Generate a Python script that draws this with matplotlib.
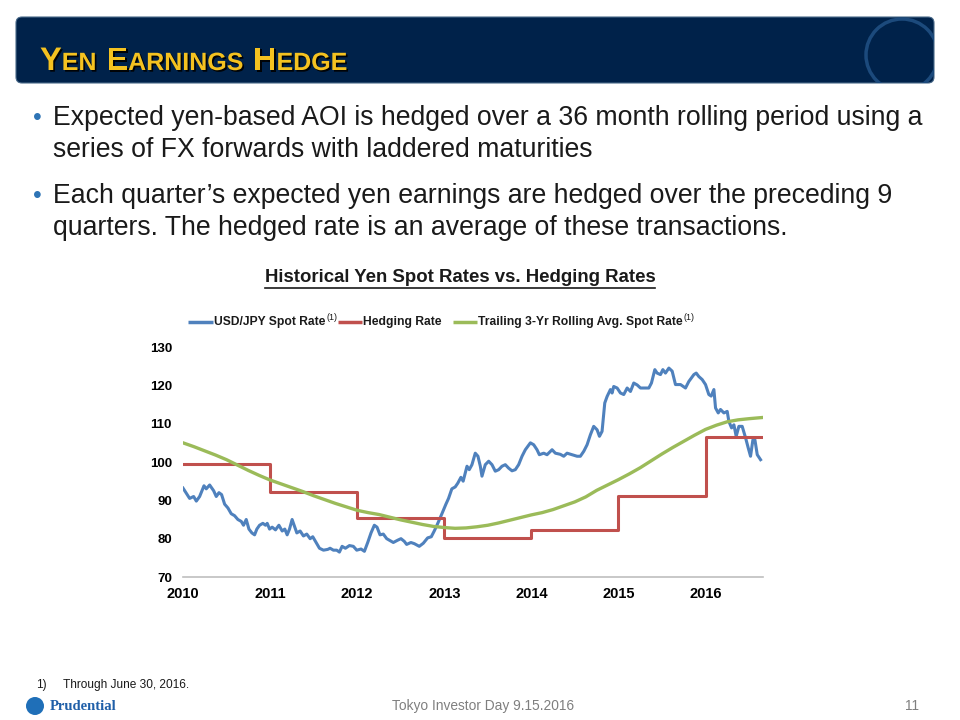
import matplotlib
matplotlib.use("Agg")
import matplotlib.pyplot as plt
import matplotlib.patheffects as pe
from matplotlib.patches import FancyBboxPatch, Circle

plt.rcParams['font.family'] = ['Liberation Sans', 'DejaVu Sans']

# --- data (decimal years) ---
spot_years = [2010.000, 2010.076, 2010.122, 2010.153, 2010.191, 2010.241, 2010.267, 2010.306,
              2010.352, 2010.382, 2010.413, 2010.443, 2010.478, 2010.516, 2010.554, 2010.592,
              2010.630, 2010.669, 2010.695, 2010.726, 2010.757, 2010.791, 2010.822, 2010.848,
              2010.879, 2010.917, 2010.948, 2010.967, 2010.994, 2011.024, 2011.062, 2011.101,
              2011.139, 2011.169, 2011.196, 2011.223, 2011.253, 2011.276, 2011.307, 2011.345,
              2011.383, 2011.421, 2011.460, 2011.490, 2011.528, 2011.567, 2011.613, 2011.662,
              2011.689, 2011.727, 2011.765, 2011.796, 2011.827, 2011.865, 2011.911, 2011.956,
              2011.995, 2012.044, 2012.083, 2012.121, 2012.159, 2012.197, 2012.228, 2012.262,
              2012.300, 2012.339, 2012.377, 2012.415, 2012.465, 2012.503, 2012.541, 2012.568,
              2012.617, 2012.656, 2012.713, 2012.759, 2012.809, 2012.851, 2012.885, 2012.916,
              2012.973, 2013.019, 2013.049, 2013.087, 2013.126, 2013.156, 2013.191, 2013.217,
              2013.261, 2013.287, 2013.318, 2013.356, 2013.387, 2013.414, 2013.433, 2013.471,
              2013.510, 2013.548, 2013.586, 2013.625, 2013.663, 2013.701, 2013.739, 2013.778,
              2013.816, 2013.854, 2013.893, 2013.931, 2013.989, 2014.027, 2014.065, 2014.092,
              2014.142, 2014.180, 2014.238, 2014.276, 2014.333, 2014.372, 2014.410, 2014.467,
              2014.525, 2014.563, 2014.602, 2014.640, 2014.678, 2014.716, 2014.755, 2014.782,
              2014.812, 2014.843, 2014.870, 2014.908, 2014.927, 2014.946, 2014.985, 2015.023,
              2015.061, 2015.100, 2015.138, 2015.176, 2015.215, 2015.253, 2015.310, 2015.349,
              2015.379, 2015.418, 2015.444, 2015.483, 2015.510, 2015.540, 2015.579, 2015.617,
              2015.655, 2015.713, 2015.770, 2015.808, 2015.866, 2015.893, 2015.923, 2015.962,
              2016.000, 2016.038, 2016.065, 2016.096, 2016.115, 2016.146, 2016.172, 2016.211,
              2016.249, 2016.268, 2016.299, 2016.326, 2016.352, 2016.383, 2016.421, 2016.460,
              2016.490, 2016.517, 2016.544, 2016.567, 2016.594, 2016.632]
spot_rate = [93.2, 90.5, 91.0, 89.8, 91.0, 93.8, 93.0, 94.0,
             92.5, 91.0, 92.0, 91.5, 89.0, 88.0, 86.5, 86.0,
             85.0, 84.5, 83.5, 85.0, 82.5, 81.5, 81.0, 82.5,
             83.5, 84.0, 83.5, 84.0, 82.5, 83.0, 82.3, 83.5,
             82.0, 82.5, 81.0, 82.5, 85.0, 83.5, 81.5, 82.0,
             80.7, 81.2, 80.0, 80.5, 79.0, 77.5, 77.0, 77.2,
             77.5, 77.0, 77.0, 76.5, 78.0, 77.5, 78.2, 78.0,
             77.0, 77.3, 76.7, 79.0, 81.5, 83.5, 83.0, 81.0,
             81.2, 80.0, 79.5, 79.0, 79.6, 80.0, 79.3, 78.5,
             79.0, 78.7, 78.0, 78.8, 80.2, 80.5, 82.0, 83.5,
             86.5, 89.0, 90.5, 93.0, 93.5, 94.5, 96.0, 95.0,
             98.9, 98.0, 99.3, 102.3, 101.5, 98.9, 96.3, 99.3,
             100.2, 99.3, 97.6, 98.0, 98.9, 99.3, 98.4, 97.7,
             98.0, 99.3, 101.5, 103.2, 105.0, 104.5, 103.2, 101.9,
             102.3, 101.9, 103.2, 102.3, 102.0, 101.5, 102.3, 101.9,
             101.5, 101.5, 102.8, 104.5, 107.1, 109.3, 108.4, 106.7,
             108.0, 115.4, 117.1, 118.9, 118.0, 119.7, 119.3, 118.0,
             117.6, 119.3, 118.4, 120.6, 120.1, 119.3, 119.3, 119.3,
             120.6, 124.1, 123.2, 122.8, 124.1, 123.2, 124.5, 123.7,
             120.2, 120.2, 119.3, 121.0, 122.8, 123.2, 122.3, 121.5,
             120.2, 117.6, 117.2, 118.9, 114.1, 112.8, 113.7, 112.8,
             113.2, 110.6, 108.9, 109.7, 106.7, 109.3, 109.3, 106.3,
             103.7, 101.5, 105.8, 105.8, 101.9, 100.6]

hedge_years = [2010.0, 2011.0, 2012.0, 2013.0, 2014.0, 2015.0, 2016.0, 2016.65]
hedge_rate = [99.5, 92.2, 85.4, 80.3, 82.3, 91.2, 106.4, 106.4]

avg_years = [2010.0, 2010.125, 2010.25, 2010.375, 2010.5, 2010.625, 2010.75, 2010.875,
             2011.0, 2011.125, 2011.25, 2011.375, 2011.5, 2011.625, 2011.75, 2011.875,
             2012.0, 2012.125, 2012.25, 2012.375, 2012.5, 2012.625, 2012.75, 2012.875,
             2013.0, 2013.125, 2013.25, 2013.375, 2013.5, 2013.625, 2013.75, 2013.875,
             2014.0, 2014.125, 2014.25, 2014.375, 2014.5, 2014.625, 2014.75, 2014.875,
             2015.0, 2015.125, 2015.25, 2015.375, 2015.5, 2015.625, 2015.75, 2015.875,
             2016.0, 2016.125, 2016.25, 2016.375, 2016.5, 2016.65]
avg_rate = [105.0, 104.0, 102.9, 101.8, 100.6, 99.2, 97.8, 96.5,
            95.3, 94.3, 93.3, 92.3, 91.2, 90.2, 89.2, 88.3,
            87.4, 86.8, 86.3, 85.6, 84.9, 84.3, 83.7, 83.2,
            82.9, 82.7, 82.8, 83.1, 83.5, 84.1, 84.8, 85.5,
            86.2, 86.8, 87.6, 88.6, 89.6, 90.9, 92.6, 94.0,
            95.4, 96.9, 98.5, 100.3, 102.1, 103.8, 105.4, 107.0,
            108.5, 109.6, 110.5, 111.0, 111.3, 111.6]

year_ticks = [2010, 2011, 2012, 2013, 2014, 2015, 2016]
y_ticks = [70, 80, 90, 100, 110, 120, 130]

bullets = [
    ["Expected yen-based AOI is hedged over a 36 month rolling period using a",
     "series of FX forwards with laddered maturities"],
    ["Each quarter\u2019s expected yen earnings are hedged over the preceding 9",
     "quarters. The hedged rate is an average of these transactions."],
]

BLUE = "#4f81bd"
RED = "#c0504d"
GREEN = "#9bbb59"
NAVY = "#00224a"
GOLD = "#f4c220"

fig = plt.figure(figsize=(9.6, 7.2), dpi=100)

# background layer in pixel coordinates
bg = fig.add_axes([0, 0, 1, 1])
bg.set_xlim(0, 960)
bg.set_ylim(720, 0)
bg.axis("off")

header = FancyBboxPatch((16, 17), 918, 66, boxstyle="round,pad=0,rounding_size=6",
                        fc=NAVY, ec="#4a6a8a", lw=0.8)
bg.add_patch(header)
logo = Circle((902, 55), 36, fc="none", ec="#1c4a7c", lw=2.5)
bg.add_patch(logo)
logo.set_clip_path(header)

# small caps title
fig.canvas.draw()
renderer = fig.canvas.get_renderer()
x = 40
shadow = [pe.SimplePatchShadow(offset=(1.2, -1.2), shadow_rgbFace="black", alpha=0.9), pe.Normal()]
for word in ["Yen", "Earnings", "Hedge"]:
    for i, part in enumerate([word[0], word[1:].upper()]):
        t = bg.text(x, 70, part, fontsize=23.5 if i == 0 else 18, fontweight="bold",
                    color=GOLD, va="baseline", ha="left", path_effects=shadow)
        bb = t.get_window_extent(renderer)
        x += bb.width
    x += 10

# bullets
ys = [[118, 150], [196, 228]]
for lines, yy in zip(bullets, ys):
    bg.text(33, yy[0], "\u2022", fontsize=18, color="#2e74b5", va="center", ha="left")
    for line, y in zip(lines, yy):
        bg.text(53, y, line, fontsize=19.2, color="#1a1a1a", va="center", ha="left")

# chart title, underlined
bg.text(460, 277, "Historical Yen Spot Rates vs. Hedging Rates", fontsize=13.4,
        fontweight="bold", color="#1a1a1a", ha="center", va="center")
bg.plot([265, 655], [288, 288], color="#1a1a1a", lw=1.2)

# legend drawn by hand
leg_y = 322
legend_items = [(188, 213, BLUE, "USD/JPY Spot Rate", 214, True),
                (338, 362, RED, "Hedging Rate", 363, False),
                (453, 477, GREEN, "Trailing 3-Yr Rolling Avg. Spot Rate", 478, True)]
for x0, x1, c, label, tx, sup in legend_items:
    bg.plot([x0, x1], [leg_y, leg_y], color=c, lw=2.5, solid_capstyle="butt")
    t = bg.text(tx, leg_y, label, fontsize=8.7, fontweight="bold", color="#1a1a1a",
                ha="left", va="center")
    if sup:
        bb = t.get_window_extent(renderer)
        bg.text(tx + bb.width + 1, leg_y - 4, "(1)", fontsize=6.5, color="#1a1a1a",
                ha="left", va="center")

# footnote and footer
bg.text(36, 685, "1)", fontsize=8.6, color="#1a1a1a", va="center")
bg.text(63, 685, "Through June 30, 2016.", fontsize=8.6, color="#1a1a1a", va="center")
bg.add_patch(Circle((35, 706), 9, fc="#1f6fb8", ec="none"))
bg.text(50, 707, "Prudential", fontsize=10.5, fontweight="bold", color="#1f5fa8",
        family="Liberation Serif", va="center", ha="left")
bg.text(483, 706, "Tokyo Investor Day 9.15.2016", fontsize=9.9, color="#7f7f7f",
        ha="center", va="center")
bg.text(912, 706, "11", fontsize=9.9, color="#7f7f7f", ha="center", va="center")

# chart axes
ax = fig.add_axes([183 / 960, 1 - 577 / 720, 580 / 960, 230 / 720])
ax.plot(spot_years, spot_rate, color=BLUE, lw=2.2, solid_joinstyle="round")
ax.step(hedge_years, hedge_rate, where="post", color=RED, lw=2.2)
ax.plot(avg_years, avg_rate, color=GREEN, lw=2.4)
ax.set_xlim(2010, 2016.66)
ax.set_ylim(70, 130)
ax.set_xticks(year_ticks)
ax.set_yticks(y_ticks)
ax.set_xticklabels([str(v) for v in year_ticks], fontsize=10.5, fontweight="bold")
ax.set_yticklabels([str(v) for v in y_ticks], fontsize=9.5, fontweight="bold")
ax.tick_params(length=0, pad=8)
ax.tick_params(axis="x", pad=7)
for s in ["top", "right", "left"]:
    ax.spines[s].set_visible(False)
ax.spines["bottom"].set_color("#bfbfbf")
ax.spines["bottom"].set_linewidth(1.2)
ax.patch.set_alpha(0)

fig.savefig("out.png", dpi=100)
